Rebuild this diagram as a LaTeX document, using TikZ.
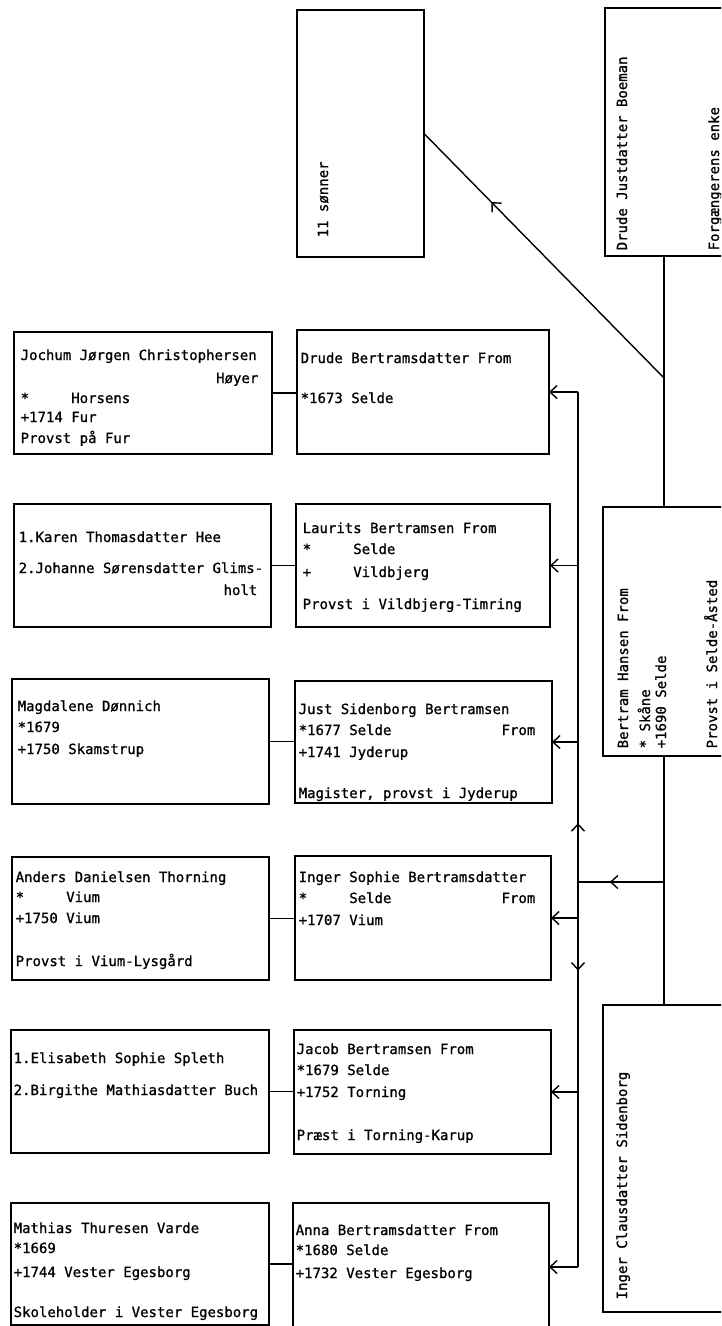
\documentclass[tikz,border=0pt]{standalone}
\usepackage{fontspec}
\newfontfamily\typewr[FakeBold=1]{DejaVu Sans Mono}
\usetikzlibrary{arrows.meta,decorations.markings}

\begin{document}
\begin{tikzpicture}[x=1pt,y=-1pt,line width=1.4pt,
    box/.style={draw, anchor=north west, outer sep=0pt, inner sep=0pt},
    txt/.style={anchor=base west, inner sep=0pt, font=\typewr\fontsize{14}{17}\selectfont},
    rtxt/.style={txt, rotate=90},
    barb/.style={-{Straight Barb[length=7pt,width=13pt]}},
    midtip/.style={postaction={decorate,decoration={markings,
        mark=at position #1 with {\arrow{Straight Barb[length=7pt,width=13pt]}}}}}]
    \useasboundingbox (0,0) rectangle (721,1326);
    \clip (0,0) rectangle (721,1326);

    % parents and the other marriage
    \node[box, minimum width=127pt, minimum height=247pt] (sonner) at (297,10) {};
    \node[rtxt] at (328,238) {11 sønner};
    \node[box, minimum width=140pt, minimum height=248pt] (drudej) at (605,8) {};
    \node[rtxt] at (627,251) {Drude Justdatter Boeman};
    \node[rtxt] at (719,251) {Forgængerens enke};
    \node[box, minimum width=142pt, minimum height=249pt] (bertram) at (603,507) {};
    \node[rtxt] at (628,749) {Bertram Hansen From};
    \node[rtxt] at (650,749) {*~Skåne};
    \node[rtxt] at (666,749) {+1690 Selde};
    \node[rtxt] at (717,749) {Provst i Selde-Åsted};
    \node[box, minimum width=142pt, minimum height=307pt] (ingerc) at (603,1005) {};
    \node[rtxt] at (627,1300) {Inger Clausdatter Sidenborg};

    % children
    \node[box, minimum width=252pt, minimum height=124pt] (drudeb) at (297,330) {};
    \node[txt] at (300,363) {Drude Bertramsdatter From};
    \node[txt] at (300,403) {*1673 Selde};
    \node[box, minimum width=254pt, minimum height=123pt] (laurits) at (296,504) {};
    \node[txt] at (302,533) {Laurits Bertramsen From};
    \node[txt] at (302,554) {*~~~~~Selde};
    \node[txt] at (302,577) {+~~~~~Vildbjerg};
    \node[txt] at (302,609) {Provst i Vildbjerg-Timring};
    \node[box, minimum width=257pt, minimum height=122pt] (just) at (295,681) {};
    \node[txt] at (298,714) {Just Sidenborg Bertramsen};
    \node[txt] at (298,735) {*1677 Selde};
    \node[txt, anchor=base east] at (536,735) {From};
    \node[txt] at (298,757) {+1741 Jyderup};
    \node[txt] at (298,798) {Magister, provst i Jyderup};
    \node[box, minimum width=256pt, minimum height=124pt] (ingers) at (295,856) {};
    \node[txt] at (298,882) {Inger Sophie Bertramsdatter};
    \node[txt] at (298,903) {*~~~~~Selde};
    \node[txt, anchor=base east] at (536,903) {From};
    \node[txt] at (298,925) {+1707 Vium};
    \node[box, minimum width=257pt, minimum height=124pt] (jacob) at (294,1030) {};
    \node[txt] at (296,1054) {Jacob Bertramsen From};
    \node[txt] at (296,1075) {*1679 Selde};
    \node[txt] at (296,1097) {+1752 Torning};
    \node[txt] at (296,1140) {Præst i Torning-Karup};
    \node[box, minimum width=256pt, minimum height=128pt] (anna) at (293,1203) {};
    \node[txt] at (295,1235) {Anna Bertramsdatter From};
    \node[txt] at (295,1255) {*1680 Selde};
    \node[txt] at (295,1278) {+1732 Vester Egesborg};

    % spouses
    \node[box, minimum width=258pt, minimum height=122pt] (jochum) at (14,332) {};
    \node[txt] at (20,360) {Jochum Jørgen Christophersen};
    \node[txt, anchor=base east] at (259,383) {Høyer};
    \node[txt] at (20,403) {*~~~~~Horsens};
    \node[txt] at (20,422) {+1714 Fur};
    \node[txt] at (20,443) {Provst på Fur};
    \node[box, minimum width=257pt, minimum height=123pt] (karen) at (14,504) {};
    \node[txt] at (18,542) {1.Karen Thomasdatter Hee};
    \node[txt] at (18,573) {2.Johanne Sørensdatter Glims-};
    \node[txt, anchor=base east] at (258,595) {holt};
    \node[box, minimum width=257pt, minimum height=125pt] (magdalene) at (12,679) {};
    \node[txt] at (17,711) {Magdalene Dønnich};
    \node[txt] at (17,732) {*1679};
    \node[txt] at (17,754) {+1750 Skamstrup};
    \node[box, minimum width=257pt, minimum height=123pt] (anders) at (12,857) {};
    \node[txt] at (15,882) {Anders Danielsen Thorning};
    \node[txt] at (15,902) {*~~~~~Vium};
    \node[txt] at (15,923) {+1750 Vium};
    \node[txt] at (15,966) {Provst i Vium-Lysgård};
    \node[box, minimum width=258pt, minimum height=123pt] (elisabeth) at (11,1030) {};
    \node[txt] at (13,1063) {1.Elisabeth Sophie Spleth};
    \node[txt] at (13,1095) {2.Birgithe Mathiasdatter Buch};
    \node[box, minimum width=258pt, minimum height=122pt] (mathias) at (11,1203) {};
    \node[txt] at (13,1233) {Mathias Thuresen Varde};
    \node[txt] at (13,1253) {*1669};
    \node[txt] at (13,1277) {+1744 Vester Egesborg};
    \node[txt] at (13,1317) {Skoleholder i Vester Egesborg};

    % lines
    \coordinate (bus) at (578,0);
    \coordinate (mline) at (664,0);
    \coordinate (wed) at (664,378);
    \coordinate (kids) at (664,882);
    \coordinate (junc) at (bus |- kids);
    \draw (drudej.south -| mline) -- (bertram.north -| mline);
    \draw (bertram.south -| mline) -- (ingerc.north -| mline);
    \draw[midtip=0.72] (wed) -- (sonner.east);
    \draw[midtip=0.63] (kids) -- (junc);
    \draw[midtip=0.12] (junc) -- (drudeb.east -| bus);
    \draw[midtip=0.23] (junc) -- (anna.east -| bus);
    \foreach \k in {drudeb,laurits,just,ingers,jacob,anna}
        \draw[barb] (\k.east -| bus) -- (\k.east);
    \draw (jochum.east) -- (jochum.east -| drudeb.west);
    \draw (karen.east) -- (karen.east -| laurits.west);
    \draw (magdalene.east) -- (magdalene.east -| just.west);
    \draw (anders.east) -- (anders.east -| ingers.west);
    \draw (elisabeth.east) -- (elisabeth.east -| jacob.west);
    \draw (mathias.east) -- (mathias.east -| anna.west);
\end{tikzpicture}
\end{document}
